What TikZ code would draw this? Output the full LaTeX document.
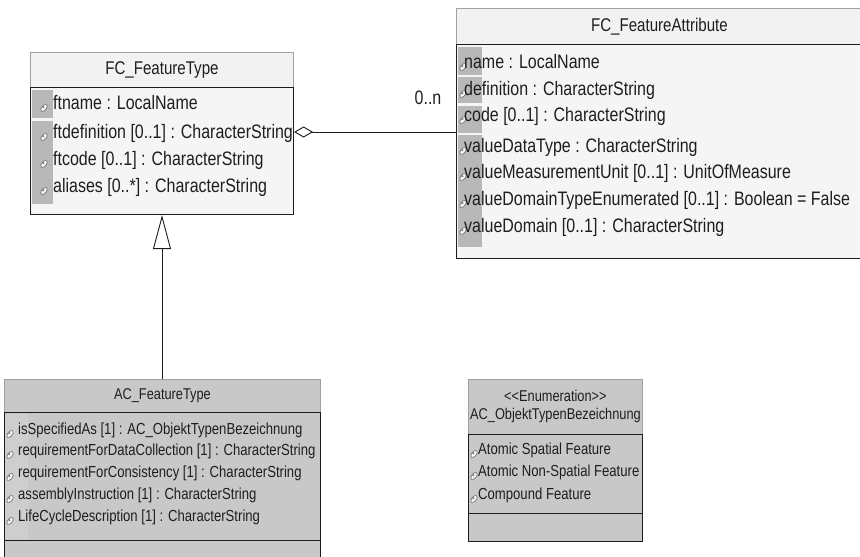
\documentclass[tikz,border=0pt]{standalone}
\usepackage{fontspec}
\setmainfont[FakeStretch=0.82]{Liberation Sans}
\usetikzlibrary{arrows.meta}
\definecolor{bandfill}{HTML}{F2F2F2}
\definecolor{compfill}{HTML}{F5F5F5}
\definecolor{bandline}{HTML}{A0A0A0}
\definecolor{compline}{HTML}{1C1C1C}
\definecolor{tilecol}{HTML}{B8B8B8}
\definecolor{acfill}{HTML}{C8C8C8}
\definecolor{accolumn}{HTML}{CECECE}
\definecolor{txt}{HTML}{1E1E1E}
\definecolor{iconline}{HTML}{6E6E6E}
\begin{document}
\begin{tikzpicture}[x=1pt,y=-1pt,
  band/.style={draw=bandline, fill=bandfill, line width=0.9pt, inner sep=0pt, anchor=north west, text=txt},
  comp/.style={draw=compline, fill=compfill, line width=1.1pt, inner sep=0pt, anchor=north west},
  acband/.style={band, fill=acfill},
  accomp/.style={comp, fill=acfill},
  fctitle/.style={font=\fontsize{18.4}{20}\selectfont},
  actitle/.style={font=\fontsize{15.6}{18}\selectfont},
  fcrow/.style={anchor=west, inner sep=0pt, text=txt, font=\fontsize{19.5}{22}\selectfont, text height=14pt, text depth=4pt},
  acrow/.style={anchor=west, inner sep=0pt, text=txt, font=\fontsize{16}{18}\selectfont, text height=11.5pt, text depth=3.5pt},
  tile/.style={fill=tilecol},
  leaf/.pic={\draw[iconline, fill=white, line width=0.7pt, rotate=-40] (0,0) ellipse [x radius=2.3pt, y radius=4.2pt];
             \fill[iconline!80] (-0.7pt,0.8pt) circle (1.3pt);},
  aggline/.style={draw=compline, line width=1pt, {Diamond[open, fill=white, length=19pt, width=11pt, line width=0.9pt]}-},
  genline/.style={draw=compline, line width=1pt, -{Triangle[open, fill=white, length=34pt, width=18pt, line width=0.9pt]}},
  lbl/.style={inner sep=0pt, text=txt, font=\fontsize{19.5}{22}\selectfont}
]
\fill[white] (0,0) rectangle (860,557);
\useasboundingbox (0,0) rectangle (860,557);

% ---------- FC_FeatureType ----------
\node[band, fctitle, minimum width=263pt, minimum height=35pt] (ftT) at (30,52) {FC\_FeatureType};
\node[comp, minimum width=263pt, minimum height=127pt] (ftC) at (30,87) {};
\fill[tile] (32,90) rectangle (53,118);
\fill[tile] (32,121) rectangle (53,204);
\foreach \yy in {104,133,160,187} { \pic at (44,\yy+4) {leaf}; }
\node[fcrow] (ft1) at (53,104) {ftname : LocalName};
\node[fcrow] (ft2) at (53,133) {ftdefinition [0..1] : CharacterString};
\node[fcrow] (ft3) at (53,160) {ftcode [0..1] : CharacterString};
\node[fcrow] (ft4) at (53,187) {aliases [0..*] : CharacterString};

% ---------- FC_FeatureAttribute ----------
\node[band, fctitle, minimum width=406pt, minimum height=36pt] (faT) at (456,8) {FC\_FeatureAttribute};
\node[comp, minimum width=406pt, minimum height=214pt] (faC) at (456,44) {};
\fill[tile] (458,47) rectangle (482,75);
\fill[tile] (458,77) rectangle (482,103);
\fill[tile] (458,106) rectangle (482,133);
\fill[tile] (458,135) rectangle (482,247);
\foreach \yy in {63,90,116,147,173,200,227} { \pic at (463,\yy+4) {leaf}; }
\node[fcrow] (fa1) at (464,63) {name : LocalName};
\node[fcrow] (fa2) at (464,90) {definition : CharacterString};
\node[fcrow] (fa3) at (464,116) {code [0..1] : CharacterString};
\node[fcrow] (fa4) at (464,147) {valueDataType : CharacterString};
\node[fcrow] (fa5) at (464,173) {valueMeasurementUnit [0..1] : UnitOfMeasure};
\node[fcrow] (fa6) at (464,200) {valueDomainTypeEnumerated [0..1] : Boolean = False};
\node[fcrow] (fa7) at (464,227) {valueDomain [0..1] : CharacterString};

% ---------- aggregation ----------
\coordinate (aggy) at (0,132);
\draw[aggline] (ftC.east |- aggy) -- (faC.west |- aggy);
\node[lbl] (mult) at (428,98) {0..n};

% ---------- AC_FeatureType ----------
\node[acband, actitle, minimum width=316pt, minimum height=33pt] (acT) at (4,379) {AC\_FeatureType};
\node[accomp, minimum width=316pt, minimum height=128pt] (acC) at (4,412) {};
\node[accomp, minimum width=316pt, minimum height=40pt] (acO) at (4,540) {};
\fill[accolumn] (5,413.5) rectangle (28,538.5);
\foreach \yy in {430,451,473,495,517} { \pic at (10,\yy+4) {leaf}; }
\node[acrow] (ac1) at (18,430) {isSpecifiedAs [1] : AC\_ObjektTypenBezeichnung};
\node[acrow] (ac2) at (18,451) {requirementForDataCollection [1] : CharacterString};
\node[acrow] (ac3) at (18,473) {requirementForConsistency [1] : CharacterString};
\node[acrow] (ac4) at (18,495) {assemblyInstruction [1] : CharacterString};
\node[acrow] (ac5) at (18,517) {LifeCycleDescription [1] : CharacterString};

% ---------- generalization ----------
\coordinate (genx) at (162,0);
\draw[genline] (acT.north -| genx) -- (ftC.south -| genx);

% ---------- Enumeration ----------
\node[acband, actitle, minimum width=174pt, minimum height=55pt, align=center] (enT) at (468,379) {<{}<Enumeration>{}>\\AC\_ObjektTypenBezeichnung};
\node[accomp, minimum width=174pt, minimum height=79pt] (enC) at (468,434) {};
\node[accomp, minimum width=174pt, minimum height=28pt] (enO) at (468,513) {};
\foreach \yy in {450,472,495} { \pic at (474,\yy+4) {leaf}; }
\node[acrow] (en1) at (478,450) {Atomic Spatial Feature};
\node[acrow] (en2) at (478,472) {Atomic Non-Spatial Feature};
\node[acrow] (en3) at (478,495) {Compound Feature};
\end{tikzpicture}
\end{document}
